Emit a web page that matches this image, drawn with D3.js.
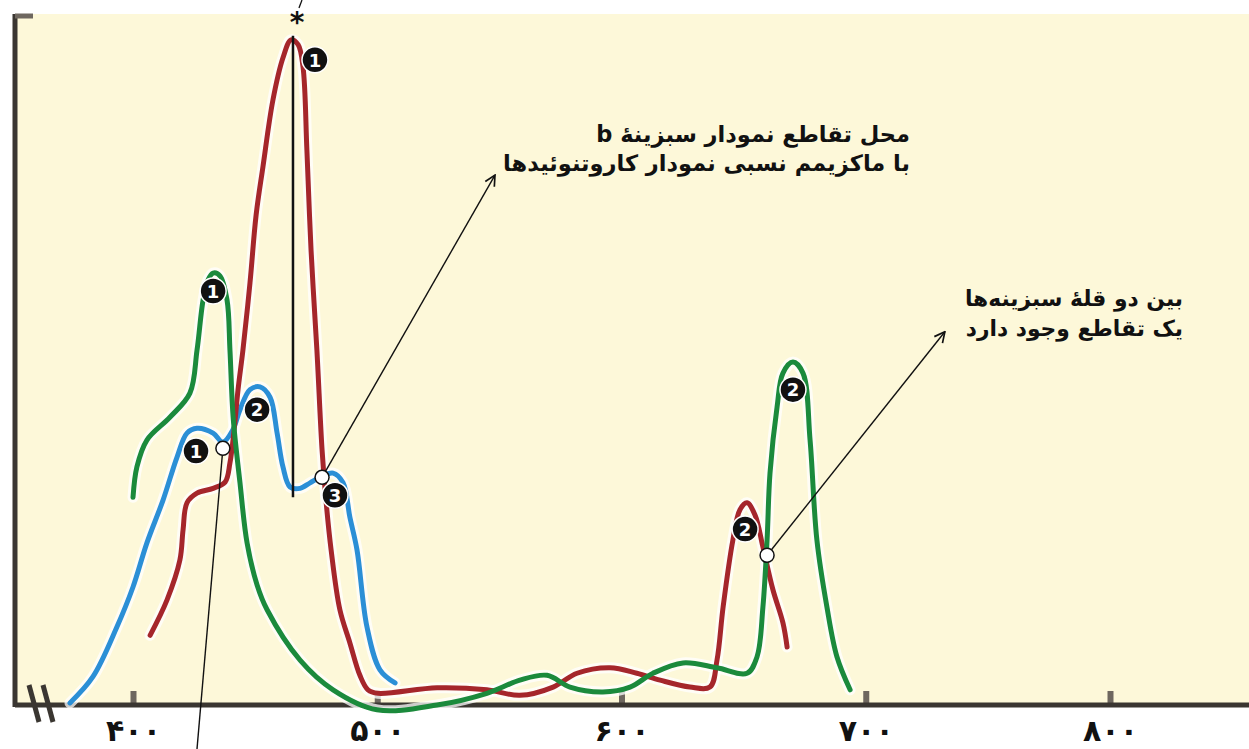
<!DOCTYPE html>
<html>
<head>
<meta charset="utf-8">
<script src="https://cdn.jsdelivr.net/npm/d3@7"></script>
<style>
  body { margin: 0; background: #fff; }
  svg { display: block; }
  .note { font-family: 'DejaVu Sans', sans-serif; font-weight: bold; fill: #111; }
  .tick-label { font-family: 'DejaVu Sans', sans-serif; font-weight: bold; font-size: 30px; fill: #111; }
</style>
</head>
<body>
<div id="chart"></div>
<script>
// wavelength (nm) / relative absorption (0-100)
const carotenoidNm = [407, 413.9, 419.2, 420.5, 422.1, 426.2, 432.8, 437.7, 439.7, 441.4, 443, 445, 447.9, 450.4, 453.2, 457.3, 461.4, 464.7, 467.6, 469.6, 471.2, 472.9, 475.3, 477.4, 479, 481.1, 484.7, 488.8, 492.9, 496.2, 500.3, 524.5, 544.9, 558.4, 572, 581.8, 595.3, 606.3, 615.8, 628, 636.2, 639.1, 641.6, 645.6, 648.5, 651.4, 654.7, 657.9, 662, 666.1, 667.8];
const carotenoidAbs = [10.1, 15.2, 21, 25.4, 29.3, 30.7, 31.4, 32.3, 35.1, 39.9, 45.7, 51.4, 61.2, 71, 78, 87.7, 93.8, 96.4, 95.7, 92.5, 80.4, 65.9, 51.4, 37, 29.7, 22.5, 13.8, 9, 4.3, 2.2, 1.7, 2.5, 2.2, 1.4, 2.6, 4.6, 5.4, 4.6, 3.6, 2.6, 2.6, 6.5, 14.2, 23.9, 28.3, 29.3, 27.5, 22.9, 16.7, 11.9, 8.4];

const chlANm = [400, 401.6, 405.7, 415.1, 423.3, 426.2, 428.7, 430.7, 432.8, 435.6, 438.5, 439.7, 441, 443.8, 446.7, 450.8, 454.9, 468.4, 481.9, 499.9, 524.5, 544.9, 558.4, 569.5, 578.9, 592.4, 603.5, 612.9, 625.2, 639.1, 651.4, 655.5, 657.9, 659.6, 660.8, 663.7, 666.1, 670.2, 674.3, 677.2, 680, 684.1, 688.2, 693.6];
const chlAAbs = [30.1, 34.5, 38.4, 41.7, 45.2, 51.4, 58.7, 61.6, 62.6, 62.2, 58.7, 51.4, 41.7, 32.2, 23.5, 17.4, 13.8, 6.5, 2.2, -0.7, 0, 1.7, 3.6, 4.3, 2.6, 1.9, 2.6, 4.6, 6.1, 5.4, 4.6, 7, 14.2, 23.9, 33.6, 43.2, 48.1, 49.7, 48.1, 38.4, 23.9, 14.2, 7, 2.2];

const chlBNm = [374.2, 383.6, 393.4, 400, 405.7, 412.3, 418, 422.1, 426.2, 432.8, 436.8, 440.9, 443.8, 447.9, 452, 456.1, 459, 461.4, 464.3, 468.4, 472.5, 476.6, 481.9, 486, 488.8, 491.7, 495.8, 501.1, 507.3];
const chlBAbs = [0.3, 4.1, 11.3, 17.1, 23.5, 29.7, 35.9, 39.4, 40.1, 39.4, 38.1, 39.9, 42.8, 45.7, 46.1, 44.6, 39.4, 34.5, 31.6, 31.4, 32.2, 33, 33.6, 32.2, 27.2, 22.5, 11.3, 5.1, 3.2];

const tickValues = [400, 500, 600, 700, 800];
const tickLabels = ['۴۰۰', '۵۰۰', '۶۰۰', '۷۰۰', '۸۰۰'];

// numbered markers and intersection dots (nm, abs)
const badges = [
	{ nm: 474.5, v: 93.5, label: '1' },
	{ nm: 432.8, v: 60.0, label: '1' },
	{ nm: 450.8, v: 42.8, label: '2' },
	{ nm: 425.8, v: 36.8, label: '1' },
	{ nm: 482.7, v: 30.4, label: '3' },
	{ nm: 670.2, v: 45.7, label: '2' },
	{ nm: 650.6, v: 25.5, label: '2' }
];
const crossings = [
	{ nm: 436.8, v: 37.2 },
	{ nm: 477.4, v: 33.0 },
	{ nm: 659.6, v: 21.7 }
];

const noteTop = [ 'محل تقاطع نمودار سبزینهٔ b', 'با ماکزیمم نسبی نمودار کاروتنوئیدها' ];
const noteRight = [ 'بین دو قلهٔ سبزینه‌ها', 'یک تقاطع وجود دارد' ];

const width = 1249, height = 749;
const plot = { left: 15, top: 14, right: 1249, bottom: 705 };

const svg = d3.select('#chart').append('svg').attr('width', width).attr('height', height);

const x = d3.scaleLinear().domain([ 400, 800 ]).range([ 133, 1110 ]);
const y = d3.scaleLinear().domain([ 0, 100 ]).range([ plot.bottom, 15 ]);

svg.append('rect')
	.attr('x', plot.left).attr('y', plot.top)
	.attr('width', plot.right - plot.left).attr('height', plot.bottom - plot.top)
	.attr('fill', '#fdf8d9');

const defs = svg.append('defs');
defs.append('marker')
	.attr('id', 'arrow')
	.attr('viewBox', '0 0 10 10')
	.attr('refX', 9).attr('refY', 5)
	.attr('markerUnits', 'userSpaceOnUse')
	.attr('markerWidth', 13).attr('markerHeight', 13)
	.attr('orient', 'auto')
	.append('path')
	.attr('d', 'M1,1 L9,5 L1,9')
	.attr('fill', 'none').attr('stroke', '#111').attr('stroke-width', 1.3);

// x axis: ticks pointing up, labels below
const xAxis = d3.axisBottom(x).tickValues(tickValues).tickSizeInner(-14).tickSizeOuter(0)
	.tickFormat((d, i) => tickLabels[i]);

const axisG = svg.append('g').attr('transform', `translate(0,${plot.bottom})`).call(xAxis);
axisG.attr('font-size', null).attr('font-family', null);
axisG.select('.domain').remove();
axisG.selectAll('.tick line').attr('stroke', '#6e675f').attr('stroke-width', 6);
axisG.selectAll('.tick text').attr('class', 'tick-label').attr('y', 36).attr('dy', 0);

// axis frame
svg.append('line')
	.attr('x1', plot.left).attr('x2', plot.right).attr('y1', plot.bottom).attr('y2', plot.bottom)
	.attr('stroke', '#3a3631').attr('stroke-width', 5);
svg.append('line')
	.attr('x1', plot.left).attr('x2', plot.left).attr('y1', plot.top).attr('y2', plot.bottom + 2)
	.attr('stroke', '#3a3631').attr('stroke-width', 5);
svg.append('line')
	.attr('x1', plot.left).attr('x2', plot.left + 18).attr('y1', plot.top + 2).attr('y2', plot.top + 2)
	.attr('stroke', '#6e675f').attr('stroke-width', 5);
// axis break
[ 0, 14 ].forEach(function(off) {
	svg.append('line')
		.attr('x1', 29 + off).attr('y1', 685).attr('x2', 39 + off).attr('y2', 722)
		.attr('stroke', '#3a3631').attr('stroke-width', 5);
});

const line = d3.line().x((d) => x(d[0])).y((d) => y(d[1])).curve(d3.curveCatmullRom.alpha(0.5));

const series = [
	{ nm: chlBNm, abs: chlBAbs, color: '#2b8fd6' },
	{ nm: carotenoidNm, abs: carotenoidAbs, color: '#a5262b' },
	{ nm: chlANm, abs: chlAAbs, color: '#1b8a3c' }
];

series.forEach(function(s) {
	const pts = s.nm.map((n, i) => [ n, s.abs[i] ]);
	svg.append('path').datum(pts).attr('d', line)
		.attr('fill', 'none').attr('stroke', '#fff').attr('stroke-opacity', 0.75)
		.attr('stroke-width', 11).attr('stroke-linecap', 'round');
});
series.forEach(function(s) {
	const pts = s.nm.map((n, i) => [ n, s.abs[i] ]);
	svg.append('path').datum(pts).attr('d', line)
		.attr('fill', 'none').attr('stroke', s.color)
		.attr('stroke-width', 5).attr('stroke-linecap', 'round').attr('stroke-linejoin', 'round');
});

// carotenoid max marker
svg.append('line')
	.attr('x1', x(465.5)).attr('x2', x(465.5)).attr('y1', y(97)).attr('y2', y(30.1))
	.attr('stroke', '#111').attr('stroke-width', 2.5);
svg.append('text')
	.attr('x', x(465.5) + 4).attr('y', 32)
	.attr('text-anchor', 'middle')
	.style('font-family', 'DejaVu Sans').style('font-weight', 'bold').style('font-size', '28px').style('fill', '#111')
	.text('*');
svg.append('line')
	.attr('x1', x(465.5) + 6).attr('y1', 8).attr('x2', x(465.5) + 9).attr('y2', 0)
	.attr('stroke', '#111').attr('stroke-width', 1.3);

// pointer lines
svg.append('line')
	.attr('x1', x(436.8)).attr('y1', y(37.2)).attr('x2', x(426.2)).attr('y2', y(-6.4))
	.attr('stroke', '#111').attr('stroke-width', 1.4);
svg.append('line')
	.attr('x1', x(477.4)).attr('y1', y(33.0)).attr('x2', x(548.2)).attr('y2', y(76.8))
	.attr('stroke', '#111').attr('stroke-width', 1.4).attr('marker-end', 'url(#arrow)');
svg.append('line')
	.attr('x1', x(659.6)).attr('y1', y(21.7)).attr('x2', x(732.4)).attr('y2', y(54.1))
	.attr('stroke', '#111').attr('stroke-width', 1.4).attr('marker-end', 'url(#arrow)');

svg.selectAll('.crossing').data(crossings).enter().append('circle')
	.attr('class', 'crossing')
	.attr('cx', (d) => x(d.nm)).attr('cy', (d) => y(d.v)).attr('r', 7)
	.attr('fill', '#fff').attr('stroke', '#111').attr('stroke-width', 1.5);

const badgeG = svg.selectAll('.badge').data(badges).enter().append('g')
	.attr('class', 'badge')
	.attr('transform', (d) => `translate(${x(d.nm)},${y(d.v)})`);
badgeG.append('circle').attr('r', 13).attr('fill', '#111').attr('stroke', '#fff').attr('stroke-width', 1.5);
badgeG.append('text')
	.attr('text-anchor', 'middle').attr('dy', '0.37em')
	.style('font-family', 'DejaVu Sans').style('font-weight', 'bold').style('font-size', '18px')
	.style('fill', '#fff')
	.text((d) => d.label);

// notes (right to left)
function note(lines, right, top, gap, size) {
	lines.forEach(function(t, i) {
		svg.append('text')
			.attr('class', 'note')
			.attr('x', right).attr('y', top + i * gap)
			.attr('direction', 'rtl').attr('text-anchor', 'start')
			.style('direction', 'rtl').style('font-size', size + 'px')
			.text(t);
	});
}
note(noteTop, 910, 142, 29, 22.5);
note(noteRight, 1183, 306, 30, 21.8);
</script>
</body>
</html>
